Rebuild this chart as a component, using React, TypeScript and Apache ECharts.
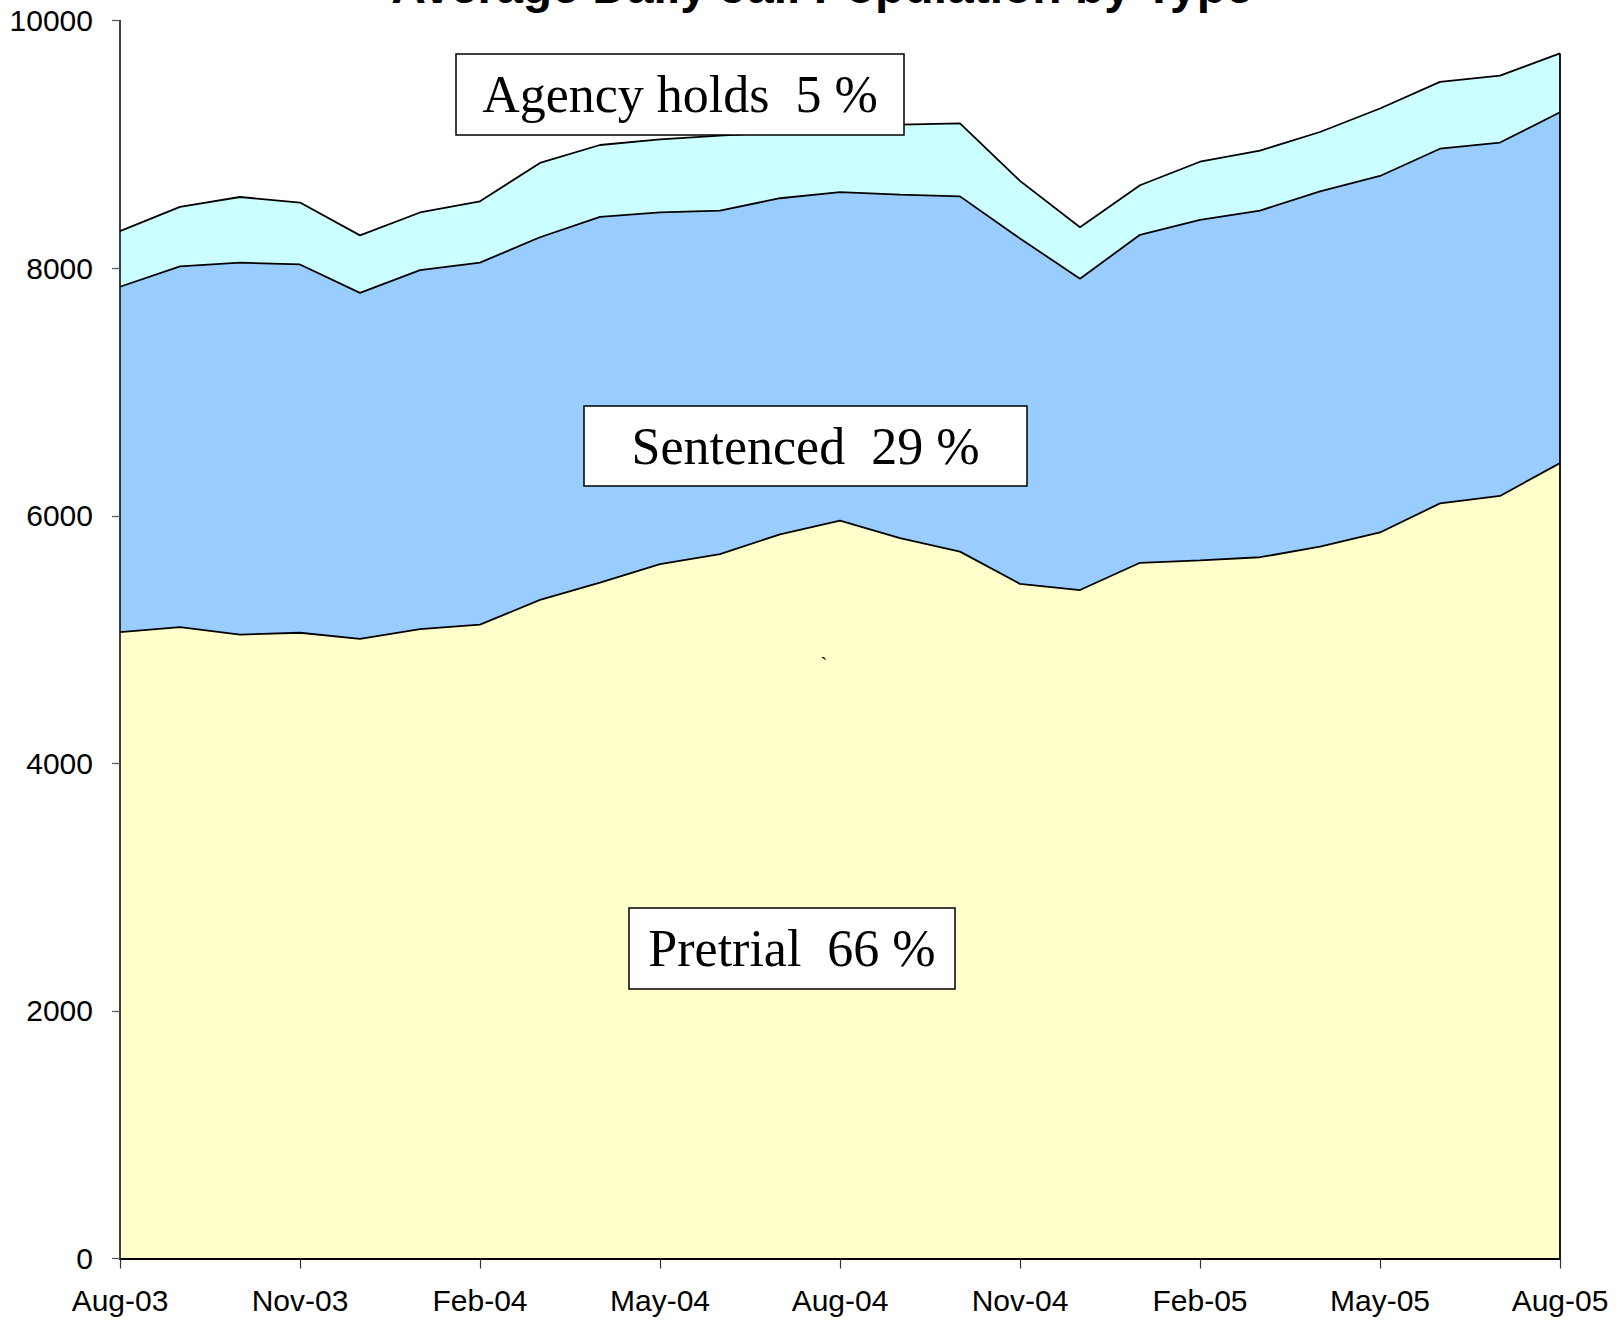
import React, { useEffect, useRef } from 'react';
import * as echarts from 'echarts';

const months = [
  'Aug-03', 'Sep-03', 'Oct-03', 'Nov-03', 'Dec-03', 'Jan-04', 'Feb-04', 'Mar-04', 'Apr-04',
  'May-04', 'Jun-04', 'Jul-04', 'Aug-04', 'Sep-04', 'Oct-04', 'Nov-04', 'Dec-04', 'Jan-05',
  'Feb-05', 'Mar-05', 'Apr-05', 'May-05', 'Jun-05', 'Jul-05', 'Aug-05',
];
const pretrial = [5060, 5100, 5040, 5055, 5005, 5085, 5120, 5320, 5460, 5610, 5690, 5850, 5960, 5820, 5710, 5450, 5400, 5620, 5640, 5665, 5750, 5865, 6100, 6160, 6425];
const sentenced = [2790, 2915, 3005, 2975, 2795, 2900, 2925, 2930, 2955, 2840, 2775, 2715, 2655, 2775, 2870, 2790, 2515, 2650, 2750, 2800, 2870, 2880, 2865, 2855, 2835];
const agencyHolds = [450, 480, 530, 500, 465, 465, 495, 600, 580, 590, 605, 535, 515, 565, 590, 465, 415, 400, 470, 485, 480, 545, 540, 540, 475];

const titleText = 'Average Daily Jail Population by Type';
const labelTexts = ['Agency holds  5 %', 'Sentenced  29 %', 'Pretrial  66 %'];

export default function App() {
  const ref = useRef<HTMLDivElement>(null);
  useEffect(() => {
    const chart = echarts.init(ref.current!, null, { renderer: 'svg' });
    const last = months.length - 1;
    const lastTotal = pretrial[last] + sentenced[last] + agencyHolds[last];
    const axisFont = { fontFamily: 'Liberation Sans, Arial, sans-serif', fontSize: 30, color: '#000' };
    const boxFont = '52px "Liberation Serif", "Times New Roman", serif';
    const box = (x: number, y: number, w: number, h: number, text: string) => [
      {
        type: 'rect',
        z: 100,
        shape: { x, y, width: w, height: h },
        style: { fill: '#fff', stroke: '#000', lineWidth: 1.5 },
      },
      {
        type: 'text',
        z: 101,
        x: x + w / 2,
        y: y + h / 2,
        style: { text, font: boxFont, fill: '#000', textAlign: 'center', textVerticalAlign: 'middle' },
      },
    ];
    const areaSeries = (name: string, data: number[], color: string) => ({
      name,
      type: 'line',
      stack: 'total',
      data,
      symbol: 'none',
      lineStyle: { color: '#000', width: 1.8 },
      areaStyle: { color, opacity: 1 },
      z: 2,
    });
    chart.setOption({
      animation: false,
      backgroundColor: '#fff',
      grid: { left: 120, right: 59, top: 20.6, bottom: 62.5, containLabel: false },
      xAxis: {
        type: 'category',
        data: months,
        boundaryGap: false,
        z: 5,
        axisLine: { show: true, lineStyle: { color: '#000', width: 2 } },
        axisTick: { show: true, interval: 2, length: 10, lineStyle: { color: '#333', width: 1.2 } },
        axisLabel: { interval: 2, margin: 27, ...axisFont },
        splitLine: { show: false },
      },
      yAxis: {
        type: 'value',
        min: 0,
        max: 10000,
        interval: 2000,
        z: 5,
        axisLine: { show: true, lineStyle: { color: '#000', width: 1.5 } },
        axisTick: { show: true, length: 8, lineStyle: { color: '#555', width: 1.2 } },
        axisLabel: { margin: 27, formatter: (v: number) => String(v), ...axisFont },
        splitLine: { show: false },
      },
      series: [
        areaSeries('Pretrial', pretrial, '#FFFFCC'),
        areaSeries('Sentenced', sentenced, '#99CCFF'),
        areaSeries('Agency holds', agencyHolds, '#CCFFFF'),
        {
          name: 'edge',
          type: 'line',
          data: [[months[last], 0], [months[last], lastTotal]],
          symbol: 'none',
          lineStyle: { color: '#000', width: 1.8 },
          z: 3,
        },
      ],
      graphic: [
        {
          type: 'text',
          x: 822,
          y: -14,
          z: 100,
          style: {
            text: titleText,
            font: 'bold 48px "Liberation Sans", Arial, sans-serif',
            fill: '#000',
            textAlign: 'center',
            textVerticalAlign: 'middle',
          },
        },
        ...box(456, 54, 448, 81, labelTexts[0]),
        ...box(584, 406, 443, 80, labelTexts[1]),
        ...box(629, 908, 326, 81, labelTexts[2]),
        {
          type: 'text',
          x: 824,
          y: 664,
          z: 100,
          style: { text: '`', font: '22px "Liberation Serif", serif', fill: '#000', textAlign: 'center', textVerticalAlign: 'middle' },
        },
      ],
    });
    return () => chart.dispose();
  }, []);
  return (
    <div
      ref={ref}
      style={{ position: 'fixed', left: 0, top: 0, width: 1619, height: 1321, background: '#fff' }}
    />
  );
}
